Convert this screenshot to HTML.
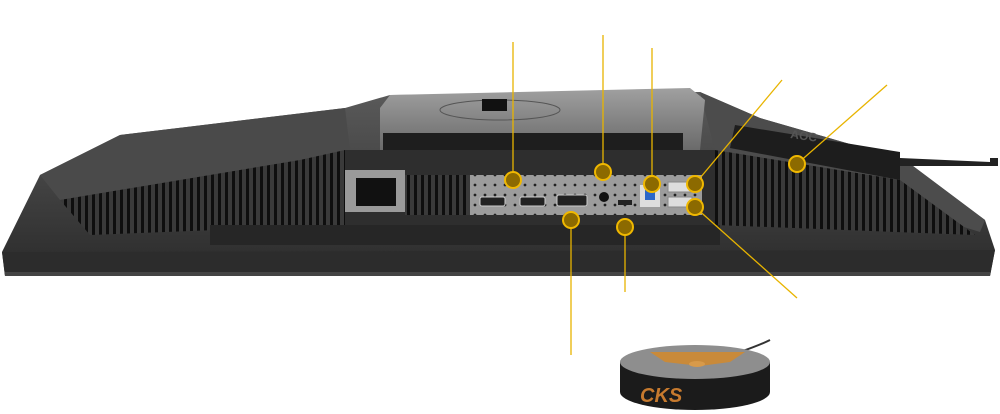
<!DOCTYPE html>
<html><head><style>
html,body{margin:0;padding:0;background:#fff;width:1000px;height:414px;overflow:hidden}
svg{display:block}
</style></head><body>
<svg width="1000" height="414" viewBox="0 0 1000 414" xmlns="http://www.w3.org/2000/svg">
<defs>
<linearGradient id="body" x1="0" y1="0" x2="0" y2="1">
<stop offset="0" stop-color="#5a5a5a"/><stop offset="1" stop-color="#2a2a2a"/>
</linearGradient>
<linearGradient id="top" x1="0" y1="0" x2="0" y2="1">
<stop offset="0" stop-color="#a0a0a0"/><stop offset="1" stop-color="#6a6a6a"/>
</linearGradient>
<pattern id="vents" width="7" height="10" patternUnits="userSpaceOnUse">
<rect width="7" height="10" fill="#3a3a3a"/><rect x="1" y="0" width="3" height="10" fill="#0e0e0e"/>
</pattern>
<pattern id="dots" width="10" height="10" patternUnits="userSpaceOnUse">
<rect width="10" height="10" fill="#9c9c9c"/><circle cx="5" cy="5" r="1.4" fill="#222"/>
</pattern>
</defs>
<polygon points="2,252 40,175 120,135 345,108 390,95 700,92 760,118 905,160 985,220 995,250 990,276 5,276" fill="url(#body)"/>
<polygon points="40,175 120,135 345,108 350,150 300,160 60,200" fill="#4a4a4a"/>
<polygon points="60,200 300,160 345,150 345,225 90,235" fill="url(#vents)"/>
<polygon points="700,92 760,118 905,160 985,220 980,232 715,150" fill="#4c4c4c"/>
<polygon points="715,150 900,180 975,235 715,225" fill="url(#vents)"/>
<polygon points="380,108 390,95 690,88 705,100 700,150 380,150" fill="url(#top)"/>
<ellipse cx="500" cy="110" rx="60" ry="10" fill="none" stroke="#555" stroke-width="1"/>
<rect x="482" y="99" width="25" height="12" fill="#111"/>
<rect x="383" y="133" width="300" height="20" fill="#1e1e1e"/>
<polygon points="735,125 900,152 900,180 730,148" fill="#1d1d1d"/>
<text x="790" y="138" font-family="Liberation Sans,sans-serif" font-size="12" font-weight="bold" fill="#555" transform="rotate(8 790 138)">AOC</text>
<rect x="345" y="150" width="370" height="75" fill="#2e2e2e"/>
<rect x="345" y="170" width="60" height="42" fill="#9a9a9a"/>
<rect x="356" y="178" width="40" height="28" fill="#111"/>
<rect x="405" y="175" width="65" height="40" fill="url(#vents)"/>
<rect x="470" y="175" width="232" height="40" fill="url(#dots)"/>
<rect x="480" y="197" width="25" height="9" rx="2" fill="#222" stroke="#ccc"/>
<rect x="520" y="197" width="25" height="9" rx="2" fill="#222" stroke="#ccc"/>
<rect x="557" y="195" width="30" height="11" rx="2" fill="#222" stroke="#ccc"/>
<circle cx="604" cy="197" r="5" fill="#111"/>
<rect x="618" y="200" width="14" height="5" fill="#222"/>
<rect x="640" y="185" width="20" height="22" fill="#ddd"/><rect x="645" y="190" width="10" height="10" fill="#2a66c8"/>
<rect x="668" y="182" width="24" height="10" fill="#ddd" stroke="#888"/><rect x="668" y="197" width="24" height="10" fill="#ddd" stroke="#888"/>
<rect x="210" y="225" width="510" height="20" fill="#262626"/>
<polygon points="2,252 995,250 990,276 5,276" fill="#2c2c2c"/>
<rect x="5" y="272" width="985" height="4" fill="#444"/>
<polygon points="900,158 990,162 990,158 998,158 998,166 900,166" fill="#222"/>
<g stroke="#e8b400" stroke-width="1.3" fill="none">
<line x1="513" y1="180" x2="513" y2="42"/>
<line x1="603" y1="172" x2="603" y2="35"/>
<line x1="652" y1="184" x2="652" y2="48"/>
<line x1="695" y1="184" x2="782" y2="80"/>
<line x1="797" y1="164" x2="887" y2="85"/>
<line x1="695" y1="207" x2="797" y2="298"/>
<line x1="571" y1="220" x2="571" y2="355"/>
<line x1="625" y1="227" x2="625" y2="292"/>
</g>
<g fill="#8c6a00" stroke="#f0b800" stroke-width="2">
<circle cx="513" cy="180" r="8"/><circle cx="603" cy="172" r="8"/><circle cx="652" cy="184" r="8"/>
<circle cx="695" cy="184" r="8"/><circle cx="695" cy="207" r="8"/><circle cx="797" cy="164" r="8"/>
<circle cx="571" cy="220" r="8"/><circle cx="625" cy="227" r="8"/>
</g>
<path d="M740 352 Q760 345 770 340" stroke="#333" stroke-width="2" fill="none"/>
<path d="M620 362 L620 392 A75 18 0 0 0 770 392 L770 362 Z" fill="#1b1b1b"/>
<ellipse cx="695" cy="362" rx="75" ry="17" fill="#8e8e8e"/>
<polygon points="650,352 745,352 730,362 700,366 665,362" fill="#c98a3a"/>
<ellipse cx="697" cy="364" rx="8" ry="3" fill="#d89a4a"/>
<text x="640" y="402" font-family="Liberation Sans,sans-serif" font-size="20" font-weight="bold" font-style="italic" fill="#c77a2e">CKS</text>
</svg>
</body></html>
